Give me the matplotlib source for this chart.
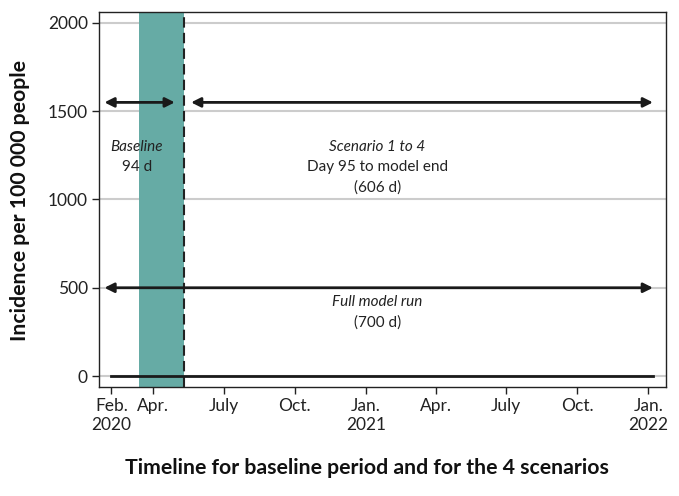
import matplotlib
matplotlib.use("Agg")
import matplotlib.pyplot as plt
import numpy as np
import datetime as dt

plt.rcParams['font.family'] = ['Lato', 'DejaVu Sans']

# model timeline
start = dt.date(2020, 2, 7)
model_days = 700
baseline_days = 94
shade_start = dt.date(2020, 3, 14)

tick_dates = [start, dt.date(2020, 4, 1), dt.date(2020, 7, 1), dt.date(2020, 10, 1),
              dt.date(2021, 1, 1), dt.date(2021, 4, 1), dt.date(2021, 7, 1),
              dt.date(2021, 10, 1), dt.date(2022, 1, 1)]
tick_labels = ["Feb.\n2020", "Apr.", "July", "Oct.", "Jan.\n2021", "Apr.", "July",
               "Oct.", "Jan.\n2022"]
y_ticks = [0, 500, 1000, 1500, 2000]

# incidence series (zero throughout)
days = np.arange(model_days + 1)
dates = [start + dt.timedelta(days=int(d)) for d in days]
incidence = np.zeros(len(days))

baseline_end = start + dt.timedelta(days=baseline_days)
model_end = start + dt.timedelta(days=model_days)

fig = plt.figure(figsize=(6.79, 4.96), dpi=100)
ax = fig.add_axes([0.1458, 0.2198, 0.8352, 0.756])

for y in y_ticks:
    ax.axhline(y, color="#cccccc", lw=1.5, zorder=0)

ax.axvspan(shade_start, baseline_end, color="#66aba5", lw=0, zorder=1)
ax.axvline(baseline_end, color="#222222", lw=1.5, ls=(0, (5, 2.5)), zorder=3)
ax.plot(dates, incidence, color="#1a1a1a", lw=2, zorder=3)

# arrows
arrow = dict(arrowstyle="<|-|>", color="#1a1a1a", lw=2, mutation_scale=14,
             shrinkA=0, shrinkB=0)
ax.annotate("", xy=(start - dt.timedelta(days=9), 1550),
            xytext=(start + dt.timedelta(days=82), 1550), arrowprops=arrow)
ax.annotate("", xy=(start + dt.timedelta(days=103), 1550),
            xytext=(model_end, 1550), arrowprops=arrow)
ax.annotate("", xy=(start - dt.timedelta(days=9), 500),
            xytext=(model_end, 500), arrowprops=arrow)

tc = "#222222"
fs = 11
ax.text(start + dt.timedelta(days=33), 1300, "Baseline", style="italic",
        ha="center", va="center", fontsize=fs, color=tc)
ax.text(start + dt.timedelta(days=33), 1185, "94 d", ha="center", va="center",
        fontsize=fs, color=tc)
ax.text(start + dt.timedelta(days=344), 1300, "Scenario 1 to 4", style="italic",
        ha="center", va="center", fontsize=fs, color=tc)
ax.text(start + dt.timedelta(days=344), 1185, "Day 95 to model end", ha="center",
        va="center", fontsize=fs, color=tc)
ax.text(start + dt.timedelta(days=344), 1070, "(606 d)", ha="center", va="center",
        fontsize=fs, color=tc)
ax.text(start + dt.timedelta(days=344), 420, "Full model run", style="italic",
        ha="center", va="center", fontsize=fs, color=tc)
ax.text(start + dt.timedelta(days=344), 305, "(700 d)", ha="center", va="center",
        fontsize=fs, color=tc)

ax.set_xlim(start - dt.timedelta(days=16.5), start + dt.timedelta(days=717))
ax.set_ylim(-62, 2062)
ax.set_xticks(tick_dates)
ax.set_xticklabels(tick_labels)
ax.set_yticks(y_ticks)
ax.tick_params(labelsize=12.5, length=5, width=1, colors="#222222", pad=3)
for s in ax.spines.values():
    s.set_linewidth(1)
    s.set_color("#222222")

fig.text(0.030, 0.5967, "Incidence per 100 000 people", rotation=90, ha="center",
         va="center", fontsize=15.3, fontweight="bold", color="#111111")
fig.text(0.5405, 0.056, "Timeline for baseline period and for the 4 scenarios",
         ha="center", va="center", fontsize=15.3, fontweight="bold", color="#111111")

fig.savefig("out.png", dpi=100)
